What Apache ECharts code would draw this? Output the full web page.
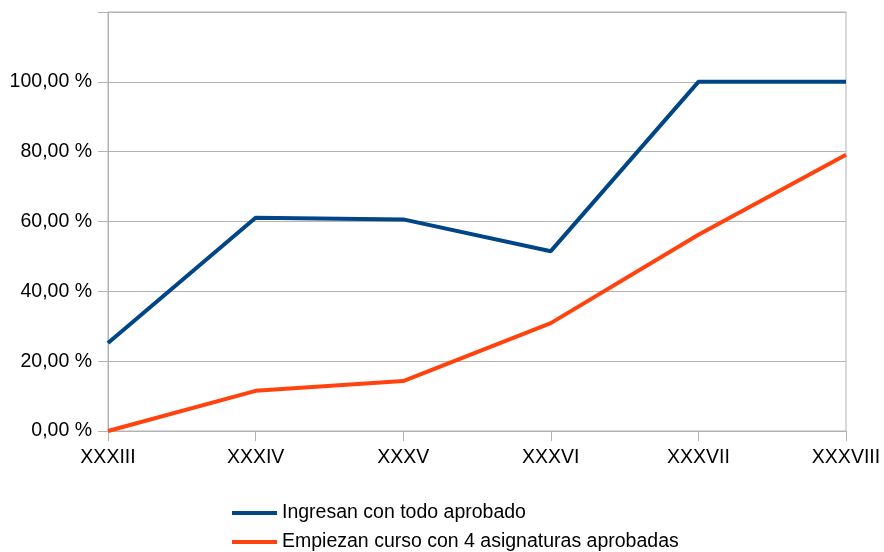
<!DOCTYPE html>
<html><head><meta charset="utf-8">
<script src="https://cdn.jsdelivr.net/npm/echarts@6/dist/echarts.min.js"></script>
<style>html,body{margin:0;padding:0;background:#fff}#c{width:884px;height:552px}</style>
</head><body><div id="c"></div>
<script>
const categories = ['XXXIII','XXXIV','XXXV','XXXVI','XXXVII','XXXVIII'];
const seriesNames = ['Ingresan con todo aprobado','Empiezan curso con 4 asignaturas aprobadas'];
const ingresan = [25.2, 61.1, 60.6, 51.5, 100, 100];
const empiezan = [0, 11.5, 14.3, 30.9, 56.2, 79.1];
const yTicks = [0, 20, 40, 60, 80, 100, 120];

const chart = echarts.init(document.getElementById('c'), null, {renderer:'canvas'});
const font = 'Liberation Sans';
const fs = 19.5;
function legendFor(name, top){
  return {
    orient:'horizontal', left:232, top:top, padding:0, itemWidth:45, itemHeight:4,
    icon:'rect',
    textStyle:{fontFamily:font,fontSize:fs,color:'#000',lineHeight:20},
    data:[name]
  };
}
chart.setOption({
  animation:false,
  color:['#004586','#ff420e'],
  grid:{left:108,right:38,top:12,bottom:121,show:true,borderColor:'#b3b3b3',borderWidth:1},
  legend:[legendFor(seriesNames[0],503), legendFor(seriesNames[1],532)],
  xAxis:{
    type:'category', data:categories, boundaryGap:false,
    axisLine:{lineStyle:{color:'#b3b3b3'}},
    axisTick:{show:true,length:10,alignWithLabel:true,lineStyle:{color:'#b3b3b3'}},
    axisLabel:{fontFamily:font,fontSize:fs,color:'#000',margin:17,interval:0},
    splitLine:{show:false}
  },
  yAxis:{
    type:'value', min:yTicks[0], max:yTicks[yTicks.length-1], interval:20,
    axisLine:{show:true,lineStyle:{color:'#b3b3b3'}},
    axisTick:{show:true,length:10,lineStyle:{color:'#b3b3b3'}},
    axisLabel:{fontFamily:font,fontSize:fs,color:'#000',margin:16,
      formatter:v=> v===120 ? '' : v.toFixed(2).replace('.',',')+' %'},
    splitLine:{lineStyle:{color:'#b3b3b3'}}
  },
  series:[
    {name:seriesNames[0],type:'line',data:ingresan,showSymbol:false,lineStyle:{width:4}},
    {name:seriesNames[1],type:'line',data:empiezan,showSymbol:false,lineStyle:{width:4}}
  ]
});
</script></body></html>
